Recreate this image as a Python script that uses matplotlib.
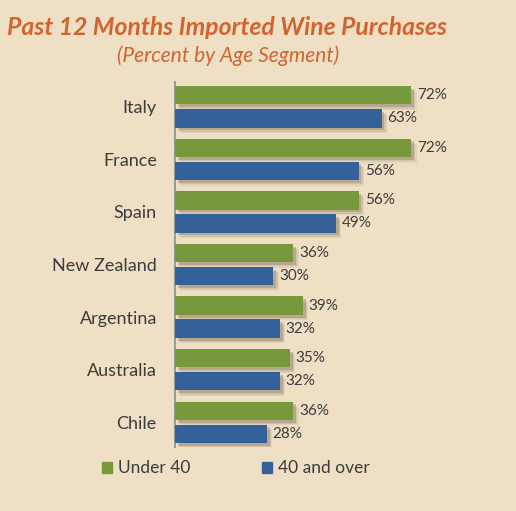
import matplotlib
matplotlib.use("Agg")
import matplotlib.pyplot as plt
import matplotlib.patheffects as pe
import numpy as np

countries = ["Italy", "France", "Spain", "New Zealand", "Argentina", "Australia", "Chile"]
under_40 = [72, 72, 56, 36, 39, 35, 36]
over_40 = [63, 56, 49, 30, 32, 32, 28]
series_names = ["Under 40", "40 and over"]

bg = "#EEDFC5"
green = "#78983C"
blue = "#36609A"
orange = "#D2652F"
text_col = "#3C3C3C"

plt.rcParams['font.family'] = ['Lato', 'DejaVu Sans']

fig = plt.figure(figsize=(5.16, 5.11), dpi=100, facecolor=bg)
ax = fig.add_axes([0.339, 0.1252, 0.636, 0.7143], facecolor=bg)

y = np.arange(len(countries))
h = 0.35
off = 0.22
# soft drop shadow made of a few stacked offsets
shadow = [pe.SimplePatchShadow(offset=(4, -4), shadow_rgbFace="#8a7a62", alpha=0.12),
          pe.SimplePatchShadow(offset=(3, -3), shadow_rgbFace="#8a7a62", alpha=0.18),
          pe.SimplePatchShadow(offset=(2, -2), shadow_rgbFace="#7a6a55", alpha=0.3),
          pe.Normal()]

b1 = ax.barh(y - off, under_40, height=h, color=green, path_effects=shadow, zorder=3)
b2 = ax.barh(y + off, over_40, height=h, color=blue, path_effects=shadow, zorder=3)

for bars, vals in [(b1, under_40), (b2, over_40)]:
    for bar, v in zip(bars, vals):
        ax.text(bar.get_width() + 1.8, bar.get_y() + bar.get_height() / 2, f"{v}%",
                va="center", ha="left", fontsize=11, color=text_col)

ax.set_xlim(0, 100)
ax.set_ylim(len(countries) - 0.53, -0.47)
ax.set_yticks(y)
ax.set_yticklabels(countries, fontsize=13, color=text_col)
ax.tick_params(axis="y", length=0, pad=13)
ax.set_xticks([])
for s in ["top", "right", "bottom"]:
    ax.spines[s].set_visible(False)
ax.spines["left"].set_color("#9a9a9a")
ax.spines["left"].set_linewidth(1.5)

fig.text(0.014, 0.946, "Past 12 Months Imported Wine Purchases", fontsize=17.8,
         fontweight="bold", fontstyle="italic", color=orange, ha="left", va="center")
fig.text(0.442, 0.891, "(Percent by Age Segment)", fontsize=15, fontstyle="italic",
         color=orange, ha="center", va="center")

# legend
fig.patches.append(plt.Rectangle((0.198, 0.075), 0.02, 0.02, transform=fig.transFigure,
                                 color=green, figure=fig))
fig.text(0.229, 0.084, series_names[0], fontsize=12.5, color=text_col, va="center")
fig.patches.append(plt.Rectangle((0.508, 0.075), 0.02, 0.02, transform=fig.transFigure,
                                 color=blue, figure=fig))
fig.text(0.539, 0.084, series_names[1], fontsize=12.5, color=text_col, va="center")

fig.savefig("out.png", dpi=100, facecolor=bg)
